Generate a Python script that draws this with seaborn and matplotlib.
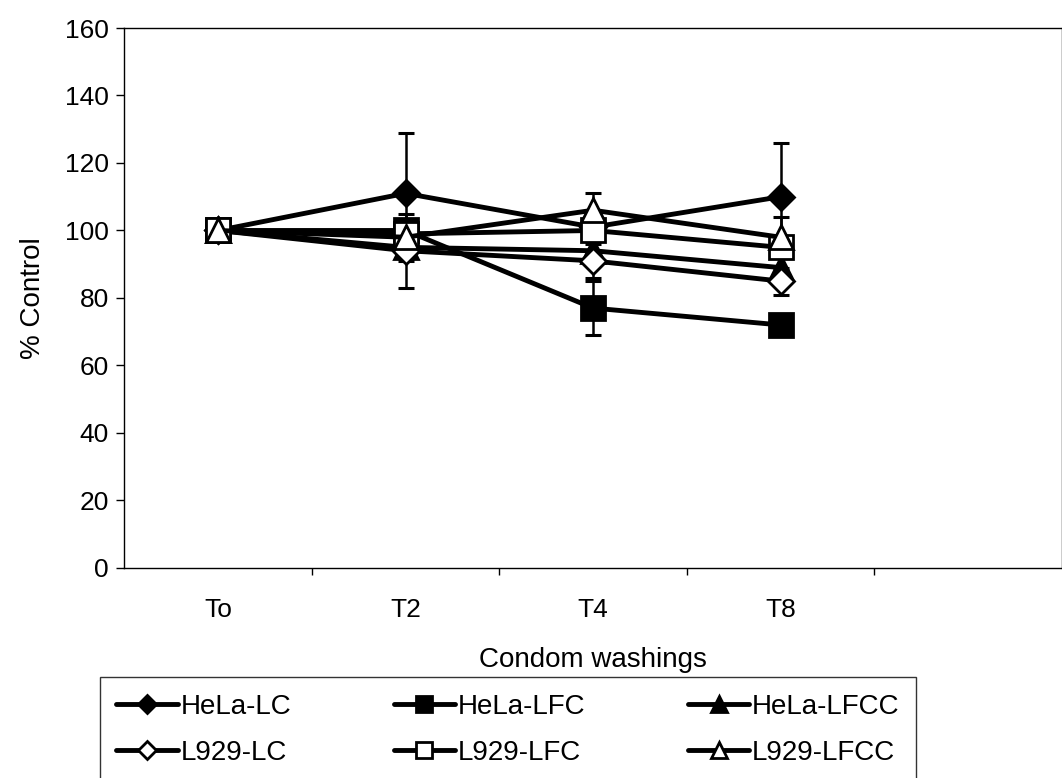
import seaborn as sns
import matplotlib.pyplot as plt
import pandas as pd

# washings on the x axis (last slot is empty, as in the original sheet)
washings = ["To", "T2", "T4", "T8", ""]
times = ["To", "T2", "T4", "T8"]

series = ["HeLa-LC", "HeLa-LFC", "HeLa-LFCC", "L929-LC", "L929-LFC", "L929-LFCC"]
hela_lc = [100, 111, 101, 110]
hela_lfc = [100, 100, 77, 72]
hela_lfcc = [100, 95, 94, 89]
l929_lc = [100, 94, 91, 85]
l929_lfc = [100, 99, 100, 95]
l929_lfcc = [100, 98, 106, 98]

# standard deviations
hela_lc_sd = [0, 18, 4, 16]
hela_lfc_sd = [0, 3, 8, 3]
hela_lfcc_sd = [0, 4, 3, 4]
l929_lc_sd = [0, 11, 5, 4]
l929_lfc_sd = [0, 3, 3, 3]
l929_lfcc_sd = [0, 4, 5, 6]

values = [hela_lc, hela_lfc, hela_lfcc, l929_lc, l929_lfc, l929_lfcc]
errors = [hela_lc_sd, hela_lfc_sd, hela_lfcc_sd, l929_lc_sd, l929_lfc_sd, l929_lfcc_sd]

rows = []
for name, vals, sds in zip(series, values, errors):
    for i, (t, v, e) in enumerate(zip(times, vals, sds)):
        rows.append({"series": name, "pos": i, "time": t, "value": v, "sd": e})
df = pd.DataFrame(rows)

sns.set_style("white")
plt.rcParams['font.family'] = ['Liberation Sans', 'DejaVu Sans']
plt.rcParams.update({"text.color": "black", "axes.labelcolor": "black",
                     "xtick.color": "black", "ytick.color": "black"})

fig = plt.figure(figsize=(10.62, 7.78), dpi=100)
ax = fig.add_axes([0.117, 0.27, 0.883, 0.694])

markers = {"HeLa-LC": "D", "HeLa-LFC": "s", "HeLa-LFCC": "^",
           "L929-LC": "D", "L929-LFC": "s", "L929-LFCC": "^"}
sizes = {"D": 13, "s": 17, "^": 17}

for name in series:
    d = df[df["series"] == name]
    filled = name.startswith("HeLa")
    m = markers[name]
    ax.errorbar(d["pos"], d["value"], yerr=d["sd"], fmt="none", ecolor="black",
                elinewidth=1.8, capsize=6, capthick=2.2, zorder=2)
    sns.lineplot(x=d["pos"], y=d["value"], ax=ax, color="black", linewidth=3.5,
                 marker=m, markersize=sizes[m], markeredgewidth=2,
                 markerfacecolor="black" if filled else "white",
                 markeredgecolor="black", label=name, zorder=3, legend=False)

ax.set_xlim(-0.5, len(washings) - 0.5)
ax.set_ylim(0, 160)
ax.set_yticks(range(0, 161, 20))
ax.set_xticks(range(len(washings)))
ax.set_xticklabels(washings)
ax.set_xticks([i + 0.5 for i in range(len(washings) - 1)], minor=True)
ax.tick_params(axis="x", which="major", length=0, pad=22, labelsize=19)
ax.tick_params(axis="x", which="minor", length=5, width=1, direction="out", bottom=True)
ax.tick_params(axis="y", length=6, width=1, direction="out", left=True, labelsize=19, pad=5)
for s in ax.spines.values():
    s.set_color("black")
    s.set_linewidth(1)

ax.set_xlabel("Condom washings", fontsize=20, labelpad=18)
ax.set_ylabel("% Control", fontsize=20, labelpad=14)

handles, labels = ax.get_legend_handles_labels()
order = [0, 3, 1, 4, 2, 5]
fig.legend([handles[i] for i in order], [labels[i] for i in order],
           loc="upper left", bbox_to_anchor=(0.094, 0.130), borderaxespad=0,
           ncol=3, fontsize=20, frameon=True, fancybox=False, edgecolor="black",
           handlelength=2.2, handletextpad=0.1, columnspacing=3.7,
           borderpad=0.6, labelspacing=0.72, markerscale=0.7)

fig.savefig("out.png", dpi=100)
